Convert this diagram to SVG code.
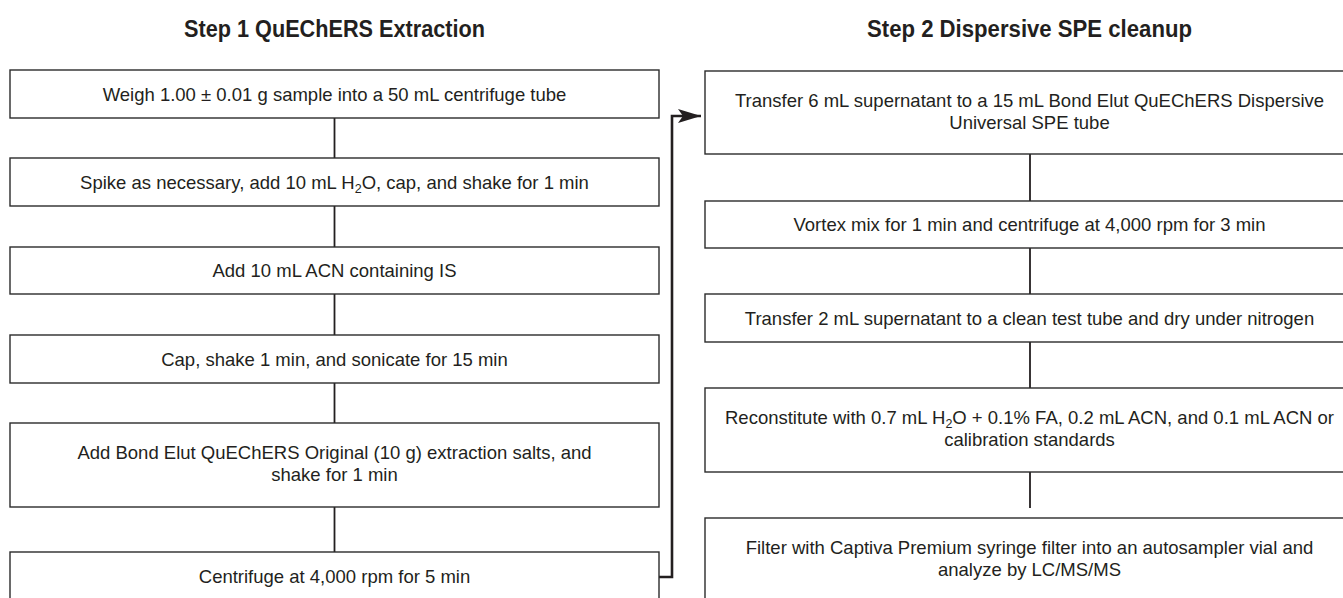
<svg xmlns="http://www.w3.org/2000/svg" width="1343" height="598" viewBox="0 0 1343 598">
<style>
.box{fill:#fff;stroke:#2b2b2b;stroke-width:1.4}
.t{font-family:"Liberation Sans",Arial,sans-serif;font-size:18.5px;fill:#231f20;text-anchor:middle}
.h{font-family:"Liberation Sans",Arial,sans-serif;font-size:23px;font-weight:bold;fill:#231f20;text-anchor:middle}
.c{fill:none;stroke:#231f20;stroke-width:1.8}
.m{fill:none;stroke:#231f20;stroke-width:2.6}
.sub{font-size:12.5px}
</style>
<defs>
<marker id="ah" markerUnits="userSpaceOnUse" markerWidth="24" markerHeight="14" refX="23" refY="7" orient="auto">
<path d="M0,0 L23,7 L0,14 L5,7 Z" fill="#231f20"/>
</marker>
</defs>
<rect width="1343" height="598" fill="#fff"/>
<text class="h" x="334.5" y="37" textLength="301" lengthAdjust="spacingAndGlyphs">Step 1 QuEChERS Extraction</text>
<text class="h" x="1029.5" y="37" textLength="325" lengthAdjust="spacingAndGlyphs">Step 2 Dispersive SPE cleanup</text>
<g id="connectors">
<line class="c" x1="334.5" y1="118" x2="334.5" y2="158"/>
<line class="c" x1="334.5" y1="206" x2="334.5" y2="247"/>
<line class="c" x1="334.5" y1="294" x2="334.5" y2="335"/>
<line class="c" x1="334.5" y1="383" x2="334.5" y2="423"/>
<line class="c" x1="334.5" y1="507" x2="334.5" y2="552"/>
<line class="c" x1="1030" y1="154" x2="1030" y2="201"/>
<line class="c" x1="1030" y1="248" x2="1030" y2="294"/>
<line class="c" x1="1030" y1="342" x2="1030" y2="388"/>
<line class="c" x1="1030" y1="472" x2="1030" y2="508"/>
<path class="m" d="M659,577 H672 V116 H701" marker-end="url(#ah)"/>
</g>
<g id="n1"><rect class="box" x="10" y="70" width="649" height="48"/>
<text class="t" x="334.5" y="100.5">Weigh 1.00 ± 0.01 g sample into a 50 mL centrifuge tube</text></g>
<g id="n2"><rect class="box" x="10" y="158" width="649" height="48"/>
<text class="t" x="334.5" y="188.5">Spike as necessary, add 10 mL H<tspan class="sub" dy="4">2</tspan><tspan dy="-4">O, cap, and shake for 1 min</tspan></text></g>
<g id="n3"><rect class="box" x="10" y="247" width="649" height="47"/>
<text class="t" x="334.5" y="277">Add 10 mL ACN containing IS</text></g>
<g id="n4"><rect class="box" x="10" y="335" width="649" height="48"/>
<text class="t" x="334.5" y="365.5">Cap, shake 1 min, and sonicate for 15 min</text></g>
<g id="n5"><rect class="box" x="10" y="423" width="649" height="84"/>
<text class="t" x="334.5" y="459">Add Bond Elut QuEChERS Original (10 g) extraction salts, and</text>
<text class="t" x="334.5" y="481">shake for 1 min</text></g>
<g id="n6"><rect class="box" x="10" y="552" width="649" height="48"/>
<text class="t" x="334.5" y="582.5">Centrifuge at 4,000 rpm for 5 min</text></g>
<g id="r1"><rect class="box" x="705" y="71" width="649" height="83"/>
<text class="t" x="1029.5" y="106.5">Transfer 6 mL supernatant to a 15 mL Bond Elut QuEChERS Dispersive</text>
<text class="t" x="1029.5" y="128.5">Universal SPE tube</text></g>
<g id="r2"><rect class="box" x="705" y="201" width="649" height="47"/>
<text class="t" x="1029.5" y="231">Vortex mix for 1 min and centrifuge at 4,000 rpm for 3 min</text></g>
<g id="r3"><rect class="box" x="705" y="294" width="649" height="48"/>
<text class="t" x="1029.5" y="324.5">Transfer 2 mL supernatant to a clean test tube and dry under nitrogen</text></g>
<g id="r4"><rect class="box" x="705" y="388" width="649" height="84"/>
<text class="t" x="1029.5" y="424">Reconstitute with 0.7 mL H<tspan class="sub" dy="4">2</tspan><tspan dy="-4">O + 0.1% FA, 0.2 mL ACN, and 0.1 mL ACN or</tspan></text>
<text class="t" x="1029.5" y="446">calibration standards</text></g>
<g id="r5"><rect class="box" x="705" y="518" width="649" height="84"/>
<text class="t" x="1029.5" y="554">Filter with Captiva Premium syringe filter into an autosampler vial and</text>
<text class="t" x="1029.5" y="576">analyze by LC/MS/MS</text></g>
</svg>
